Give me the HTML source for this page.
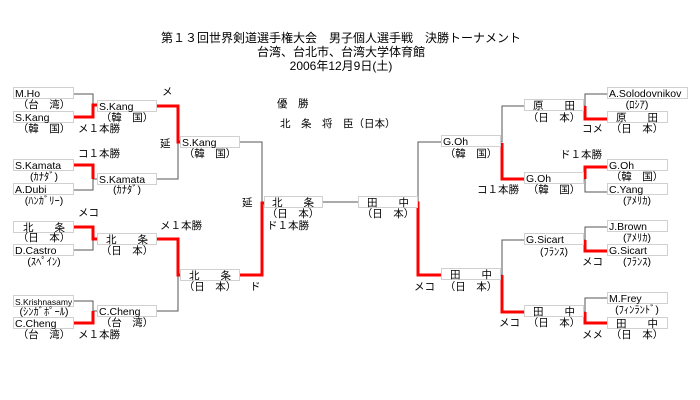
<!DOCTYPE html>
<html><head><meta charset="utf-8"><style>
html,body{margin:0;padding:0;background:#fff;}
svg{display:block;font-family:"Liberation Sans","Noto Sans CJK JP",sans-serif;}
.b{fill:#fff;stroke:#d0d0d0;stroke-width:1}
.g{stroke:#555;stroke-width:1;fill:none}
.r{stroke:#f00;stroke-width:3;fill:none}
text{font-size:10.5px;fill:#000}
.c{text-anchor:middle}
.t{font-size:12px}
</style></head><body>
<svg width="700" height="400" viewBox="0 0 700 400">
<text class="c t" x="341" y="42">第１３回世界剣道選手権大会　男子個人選手戦　決勝トーナメント</text>
<text class="c t" x="341" y="56">台湾、台北市、台湾大学体育館</text>
<text class="c t" x="341" y="70">2006年12月9日(土)</text>
<text x="277" y="107">優　勝</text>
<text x="280" y="127">北　条　将　臣（日本）</text>

<!-- left connectors -->
<path class="g" d="M74 94H93V105M93 105H97"/><path class="r" d="M74 117H93V105H97"/>
<path class="g" d="M74 190H93V179H97"/><path class="r" d="M74 165H93V179"/>
<path class="g" d="M74 250H93V239"/><path class="r" d="M74 227H93V239H97"/>
<path class="g" d="M74 301H93V311H97"/><path class="r" d="M74 323H93V311"/>
<path class="g" d="M156 179H178V142"/><path class="r" d="M156 106H178V142H180"/>
<path class="g" d="M156 311H178V275"/><path class="r" d="M156 239H178V275H180"/>
<path class="g" d="M239 142H262V203"/><path class="r" d="M239 275H262V203H264"/>
<path class="g" d="M322 202H358"/>
<path class="g" d="M441 142H418V203"/><path class="r" d="M441 275H418V203H417"/>
<!-- right connectors -->
<path class="g" d="M500 142H502V106H524"/><path class="r" d="M502 143V179H524"/>
<path class="g" d="M500 275H502V240H524"/><path class="r" d="M502 275V312H524"/>
<path class="g" d="M607 94H585V106H583"/><path class="r" d="M585 106V119H607"/>
<path class="g" d="M607 192H585V179H583"/><path class="r" d="M585 179V167H607"/>
<path class="g" d="M607 227H585V240H583"/><path class="r" d="M585 240V251H607"/>
<path class="g" d="M607 298H585V312H583"/><path class="r" d="M585 312V323H607"/>

<!-- left boxes r1 -->
<rect class="b" x="13.5" y="87.5" width="60" height="11"/><text x="15" y="97">M.Ho</text><text class="c" x="44" y="108">（台　湾）</text>
<rect class="b" x="13.5" y="111.5" width="60" height="11"/><text x="15" y="121">S.Kang</text><text class="c" x="44" y="132">（韓　国）</text>
<rect class="b" x="13.5" y="159.5" width="60" height="11"/><text x="15" y="169">S.Kamata</text><text class="c" x="44" y="180">(ｶﾅﾀﾞ)</text>
<rect class="b" x="13.5" y="183.5" width="60" height="11"/><text x="15" y="193">A.Dubi</text><text class="c" x="44" y="204">(ﾊﾝｶﾞﾘｰ)</text>
<rect class="b" x="13.5" y="221.5" width="60" height="11"/><text class="c" x="44" y="231">北　　条</text><text class="c" x="44" y="241">（日　本）</text>
<rect class="b" x="13.5" y="244.5" width="60" height="11"/><text x="15" y="254">D.Castro</text><text class="c" x="44" y="265">(ｽﾍﾟｲﾝ)</text>
<rect class="b" x="13.5" y="295.5" width="60" height="11"/><text x="15" y="305" style="font-size:8.5px">S.Krishnasamy</text><text class="c" x="44" y="315">(ｼﾝｶﾞﾎﾟｰﾙ)</text>
<rect class="b" x="13.5" y="317.5" width="60" height="11"/><text x="15" y="327">C.Cheng</text><text class="c" x="44" y="338">（台　湾）</text>
<!-- left r2 -->
<rect class="b" x="97.5" y="100.5" width="59" height="11"/><text x="99" y="110">S.Kang</text><text class="c" x="127" y="121">（韓　国）</text>
<rect class="b" x="97.5" y="173.5" width="59" height="11"/><text x="99" y="183">S.Kamata</text><text class="c" x="127" y="193">(ｶﾅﾀﾞ)</text>
<rect class="b" x="97.5" y="233.5" width="59" height="11"/><text class="c" x="127" y="243">北　　条</text><text class="c" x="127" y="254">（日　本）</text>
<rect class="b" x="97.5" y="305.5" width="59" height="11"/><text x="99" y="315">C.Cheng</text><text class="c" x="127" y="326">（台　湾）</text>
<!-- left r3 -->
<rect class="b" x="180.5" y="136.5" width="59" height="11"/><text x="182" y="146">S.Kang</text><text class="c" x="210" y="157">（韓　国）</text>
<rect class="b" x="180.5" y="269.5" width="59" height="11"/><text class="c" x="210" y="279">北　　条</text><text class="c" x="210" y="290">（日　本）</text>
<!-- final -->
<rect class="b" x="264.5" y="196.5" width="58" height="11"/><text class="c" x="293" y="206">北　　条</text><text class="c" x="293" y="217">（日　本）</text>
<rect class="b" x="358.5" y="196.5" width="59" height="11"/><text class="c" x="388" y="206">田　　中</text><text class="c" x="388" y="217">（日　本）</text>
<!-- right r3 -->
<rect class="b" x="441.5" y="135.5" width="59" height="11"/><text x="443" y="145">G.Oh</text><text class="c" x="471" y="157">（韓　国）</text>
<rect class="b" x="441.5" y="268.5" width="59" height="11"/><text class="c" x="471" y="278">田　　中</text><text class="c" x="471" y="290">（日　本）</text>
<!-- right r2 -->
<rect class="b" x="524.5" y="99.5" width="59" height="11"/><text class="c" x="554" y="109">原　　田</text><text class="c" x="554" y="121">（日　本）</text>
<rect class="b" x="524.5" y="172.5" width="59" height="11"/><text x="526" y="182">G.Oh</text><text class="c" x="554" y="193">（韓　国）</text>
<rect class="b" x="524.5" y="233.5" width="59" height="11"/><text x="526" y="243">G.Sicart</text><text class="c" x="554" y="255">(ﾌﾗﾝｽ)</text>
<rect class="b" x="524.5" y="305.5" width="59" height="11"/><text class="c" x="554" y="315">田　　中</text><text class="c" x="554" y="326">（日　本）</text>
<!-- right r1 -->
<rect class="b" x="607.5" y="87.5" width="80" height="11"/><text x="609" y="97">A.Solodovnikov</text><text class="c" x="637" y="108">(ﾛｼｱ)</text>
<rect class="b" x="607.5" y="111.5" width="60" height="11"/><text class="c" x="637" y="121">原　　田</text><text class="c" x="637" y="132">（日　本）</text>
<rect class="b" x="607.5" y="159.5" width="60" height="11"/><text x="609" y="169">G.Oh</text><text class="c" x="637" y="180">（韓　国）</text>
<rect class="b" x="607.5" y="183.5" width="60" height="11"/><text x="609" y="193">C.Yang</text><text class="c" x="637" y="204">(ｱﾒﾘｶ)</text>
<rect class="b" x="607.5" y="220.5" width="60" height="11"/><text x="609" y="230">J.Brown</text><text class="c" x="637" y="241">(ｱﾒﾘｶ)</text>
<rect class="b" x="607.5" y="244.5" width="60" height="11"/><text x="609" y="254">G.Sicart</text><text class="c" x="637" y="265">(ﾌﾗﾝｽ)</text>
<rect class="b" x="607.5" y="292.5" width="60" height="11"/><text x="609" y="302">M.Frey</text><text class="c" x="637" y="313">(ﾌｨﾝﾗﾝﾄﾞ)</text>
<rect class="b" x="607.5" y="317.5" width="60" height="11"/><text class="c" x="637" y="327">田　　中</text><text class="c" x="637" y="338">（日　本）</text>

<!-- labels -->
<text x="162" y="95">メ</text>
<text x="78" y="132">メ１本勝</text>
<text x="160" y="147">延</text>
<text x="78" y="157">コ１本勝</text>
<text x="78" y="216">メコ</text>
<text x="160" y="229">メ１本勝</text>
<text x="242" y="206">延</text>
<text x="267" y="229">ド１本勝</text>
<text x="250" y="290">ド</text>
<text x="78" y="338">メ１本勝</text>
<text x="582" y="132">コメ</text>
<text x="560" y="158">ド１本勝</text>
<text x="477" y="193">コ１本勝</text>
<text x="582" y="265">メコ</text>
<text x="414" y="290">メコ</text>
<text x="499" y="326">メコ</text>
<text x="582" y="338">メメ</text>
</svg>
</body></html>
